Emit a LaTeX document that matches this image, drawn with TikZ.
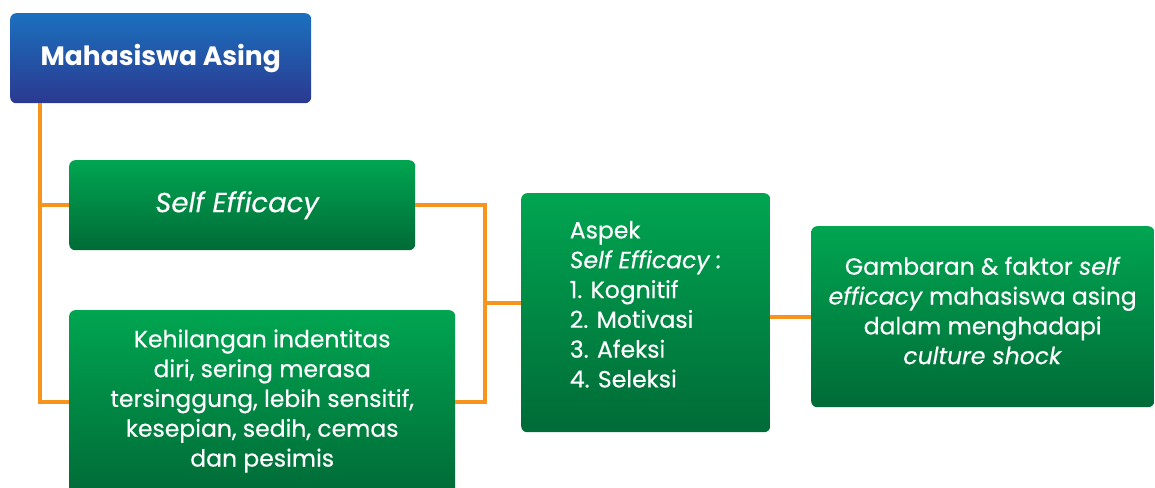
\documentclass[tikz,border=0pt]{standalone}
\usepackage{fontspec}
\setmainfont{Poppins}[UprightFeatures={FakeBold=0.4}, ItalicFeatures={FakeBold=0.4}]
\definecolor{bluetop}{HTML}{1B70BE}
\definecolor{bluebot}{HTML}{2B3990}
\definecolor{greentop}{HTML}{00A551}
\definecolor{greenbot}{HTML}{006B37}
\definecolor{orangeline}{HTML}{F7941D}
\newcommand{\tlines}[3]{\raisebox{#1}[0pt][0pt]{\begin{tabular}{@{}#2@{}}#3\end{tabular}}}
\begin{document}
\begin{tikzpicture}[x=1pt,y=1pt,
  box/.style={rounded corners=6pt, text=white, align=center, inner sep=0pt, anchor=north west},
  bluebox/.style={box, top color=bluetop, bottom color=bluebot},
  greenbox/.style={box, top color=greentop, bottom color=greenbot},
  bodytext/.style={font=\fontsize{23.5}{29.8}\selectfont},
  link/.style={draw=orangeline, line width=4pt, line join=miter}]
\useasboundingbox (0,0) rectangle (1155,487);
\clip (0,0) rectangle (1155,487);

\node[bluebox, minimum width=301pt, minimum height=90pt,
      font=\fontsize{26.5}{30}\selectfont\bfseries] (maha) at (10,474) {Mahasiswa Asing};
\node[greenbox, minimum width=346pt, minimum height=90pt,
      font=\fontsize{27.5}{30}\selectfont\itshape] (self) at (69,327) {\hspace*{-10pt}\raisebox{4pt}{Self Efficacy}};
\node[greenbox, bodytext, minimum width=386pt, minimum height=184pt] (kehil) at (69,177)
  {\tlines{-5pt}{c}{Kehilangan indentitas\\diri, sering merasa\\tersinggung, lebih sensitif,\\kesepian, sedih, cemas\\dan pesimis}};
\node[greenbox, bodytext, minimum width=249pt, minimum height=239pt] (aspek) at (521,294)
  {\tlines{-0.5pt}{l}{Aspek\\\textit{Self Efficacy :}\\1. Kognitif\\2. Motivasi\\3. Afeksi\\4. Seleksi}};
\node[greenbox, bodytext, minimum width=343pt, minimum height=181pt] (gamb) at (811,261)
  {\tlines{-3pt}{c}{Gambaran \& faktor \textit{self}\\\textit{efficacy} mahasiswa asing\\dalam menghadapi\\\textit{culture shock}}};

\coordinate (ta) at ([xshift=30pt]maha.south west);
\coordinate (j) at (485,184);
\draw[link] (ta) |- (kehil.west);
\draw[link] (ta |- self.west) -- (self.west);
\draw[link] (self.east) -| (j) |- (kehil.east);
\draw[link] (j) -- (j -| aspek.west);
\draw[link] (gamb.west -| aspek.east) -- (gamb.west);
\end{tikzpicture}
\end{document}
